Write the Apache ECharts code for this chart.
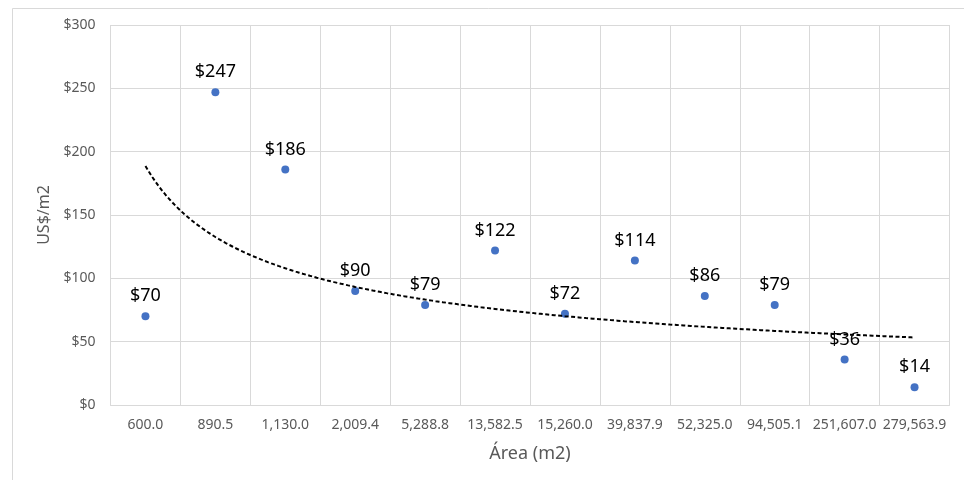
<!DOCTYPE html>
<html>
<head>
<meta charset="utf-8">
<title>US$/m2 por área</title>
<script src="https://cdn.jsdelivr.net/npm/echarts@6/dist/echarts.min.js"></script>
<style>
  html, body { margin: 0; padding: 0; background: #ffffff; }
  #chart { width: 964px; height: 480px; }
</style>
</head>
<body>
<div id="chart"></div>
<script>
// Area categories (m2) and price per square metre (US$)
const areaLabels = ['600.0', '890.5', '1,130.0', '2,009.4', '5,288.8', '13,582.5',
  '15,260.0', '39,837.9', '52,325.0', '94,505.1', '251,607.0', '279,563.9'];
const pricePerM2 = [70, 247, 186, 90, 79, 122, 72, 114, 86, 79, 36, 14];
const yTicks = { min: 0, max: 300, interval: 50 };

// Power trendline y = c * x^k fitted on category position (1..n), least squares in log-log space
function powerFit(values) {
  const n = values.length;
  let sx = 0, sy = 0, sxx = 0, sxy = 0;
  values.forEach((v, i) => {
    const lx = Math.log(i + 1), ly = Math.log(v);
    sx += lx; sy += ly; sxx += lx * lx; sxy += lx * ly;
  });
  const k = (n * sxy - sx * sy) / (n * sxx - sx * sx);
  const c = Math.exp((sy - k * sx) / n);
  return { c, k };
}
const fit = powerFit(pricePerM2);
const trend = [];
for (let x = 1; x <= pricePerM2.length + 1e-9; x += 0.05) {
  trend.push([x, fit.c * Math.pow(x, fit.k)]);
}

const font = 'Noto Sans';
const chart = echarts.init(document.getElementById('chart'), null, { renderer: 'canvas' });
chart.setOption({
  animation: false,
  backgroundColor: '#ffffff',
  textStyle: { fontFamily: font },
  graphic: [{
    type: 'rect',
    shape: { x: 12.5, y: 8.5, width: 1000, height: 500 },
    style: { fill: 'none', stroke: '#d9d9d9', lineWidth: 1 },
    silent: true, z: -10
  }],
  grid: { left: 110.5, right: 14.5, top: 25, bottom: 75 },
  xAxis: [{
    type: 'category',
    data: areaLabels,
    boundaryGap: true,
    name: 'Área (m2)',
    nameLocation: 'middle',
    nameGap: 40,
    nameTextStyle: { color: '#595959', fontSize: 18, fontFamily: font },
    axisLine: { show: true, lineStyle: { color: '#d9d9d9', width: 1 } },
    axisTick: { show: false },
    axisLabel: { interval: 0, color: '#595959', fontSize: 14, margin: 13, fontFamily: font },
    splitLine: { show: true, interval: 0, lineStyle: { color: '#d9d9d9', width: 1 } }
  }, {
    type: 'value',
    min: 0.5,
    max: areaLabels.length + 0.5,
    show: false
  }],
  yAxis: {
    type: 'value',
    min: yTicks.min,
    max: yTicks.max,
    interval: yTicks.interval,
    name: 'US$/m2',
    nameLocation: 'middle',
    nameGap: 56,
    nameTextStyle: { color: '#595959', fontSize: 16, fontFamily: font },
    axisLine: { show: false },
    axisTick: { show: false },
    axisLabel: { color: '#595959', fontSize: 14, margin: 15, fontFamily: font, formatter: v => '$' + v },
    splitLine: { show: true, lineStyle: { color: '#d9d9d9', width: 1 } }
  },
  series: [{
    name: 'US$/m2',
    type: 'scatter',
    data: pricePerM2,
    symbol: 'circle',
    symbolSize: 8,
    itemStyle: { color: '#4472C4', opacity: 1 },
    label: {
      show: true,
      position: 'top',
      distance: 7,
      color: '#000000',
      fontSize: 18,
      fontFamily: font,
      formatter: p => '$' + p.value
    },
    z: 3
  }, {
    name: 'Tendencia',
    type: 'line',
    xAxisIndex: 1,
    data: trend,
    showSymbol: false,
    symbol: 'none',
    smooth: false,
    lineStyle: { color: '#000000', width: 2, type: [4, 2.5] },
    z: 4,
    silent: true
  }]
});
</script>
</body>
</html>
